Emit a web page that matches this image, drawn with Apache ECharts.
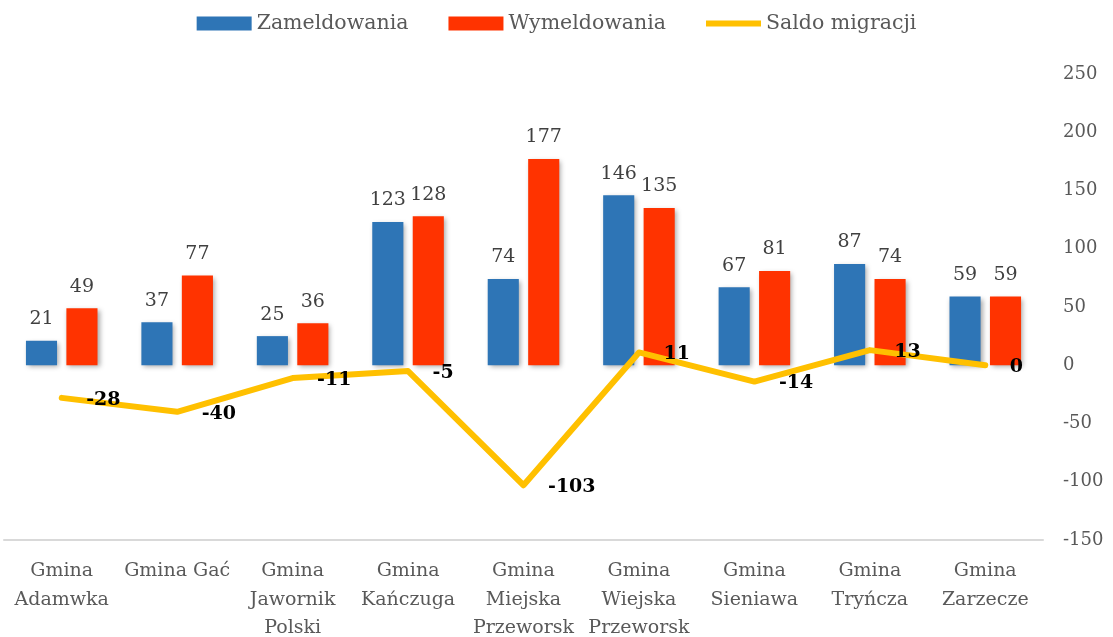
<!DOCTYPE html>
<html>
<head>
<meta charset="utf-8">
<script src="https://cdn.jsdelivr.net/npm/echarts@6/dist/echarts.min.js"></script>
<style>
html, body { margin: 0; padding: 0; background: #fff; }
#chart { width: 1113px; height: 637px; }
</style>
</head>
<body>
<div id="chart"></div>
<script>
const categories = ['Gmina\nAdamwka', 'Gmina Gać', 'Gmina\nJawornik\nPolski', 'Gmina\nKańczuga',
    'Gmina\nMiejska\nPrzeworsk', 'Gmina\nWiejska\nPrzeworsk', 'Gmina\nSieniawa', 'Gmina\nTryńcza', 'Gmina\nZarzecze'];
const zameldowania = [21, 37, 25, 123, 74, 146, 67, 87, 59];
const wymeldowania = [49, 77, 36, 128, 177, 135, 81, 74, 59];
const saldo = [-28, -40, -11, -5, -103, 11, -14, 13, 0];

const serif = '"DejaVu Serif", serif';
const grey = '#595959';

const barShadow = {
    shadowBlur: 5,
    shadowOffsetX: 2,
    shadowOffsetY: 2,
    shadowColor: 'rgba(0,0,0,0.35)'
};

// thick line icon for the legend, padded so it keeps the box height
const lineIcon = 'path://M0,0 L0,0 M0,4 L55,4 L55,10 L0,10 Z M55,14 L55,14';

const chart = echarts.init(document.getElementById('chart'));
chart.setOption({
    animation: false,
    textStyle: { fontFamily: serif },
    legend: {
        top: 8,
        left: 'center',
        itemGap: 40,
        itemWidth: 55,
        itemHeight: 14,
        textStyle: { fontSize: 20.5, color: grey, fontFamily: serif },
        data: [
            { name: 'Zameldowania', icon: 'rect' },
            { name: 'Wymeldowania', icon: 'rect' },
            { name: 'Saldo migracji', icon: lineIcon, itemStyle: { color: '#ffc000', opacity: 1 } }
        ]
    },
    grid: { left: 4, right: 70, top: 74, bottom: 97, outerBoundsMode: 'none', containLabel: false },
    xAxis: {
        type: 'category',
        data: categories,
        axisLine: { onZero: false, lineStyle: { color: '#d9d9d9', width: 2 } },
        axisTick: { show: false },
        axisLabel: {
            interval: 0,
            fontSize: 19,
            lineHeight: 28.5,
            color: grey,
            margin: 17,
            fontFamily: serif
        }
    },
    yAxis: {
        type: 'value',
        position: 'right',
        min: -150,
        max: 250,
        interval: 50,
        splitLine: { show: false },
        axisLine: { show: false },
        axisTick: { show: false },
        axisLabel: { fontSize: 18, color: grey, margin: 20, align: 'left', fontFamily: serif }
    },
    series: [
        {
            name: 'Zameldowania',
            type: 'bar',
            data: zameldowania,
            barGap: '30%',
            barCategoryGap: '38%',
            itemStyle: Object.assign({ color: '#2e75b6' }, barShadow),
            label: { show: true, position: 'top', distance: 12, fontSize: 19, color: '#404040', fontFamily: serif }
        },
        {
            name: 'Wymeldowania',
            type: 'bar',
            data: wymeldowania,
            itemStyle: Object.assign({ color: '#ff3300' }, barShadow),
            label: { show: true, position: 'top', distance: 12, fontSize: 19, color: '#404040', fontFamily: serif }
        },
        {
            name: 'Saldo migracji',
            type: 'line',
            data: saldo,
            symbol: 'circle',
            symbolSize: 1,
            showAllSymbol: true,
            lineStyle: { color: '#ffc000', width: 6, cap: 'round', join: 'round' },
            itemStyle: { color: 'rgba(255,192,0,0)' },
            label: {
                show: true,
                position: 'right',
                distance: 24,
                offset: [0, 2],
                fontSize: 19,
                fontWeight: 'bold',
                color: '#000',
                fontFamily: serif
            }
        }
    ]
});
</script>
</body>
</html>
